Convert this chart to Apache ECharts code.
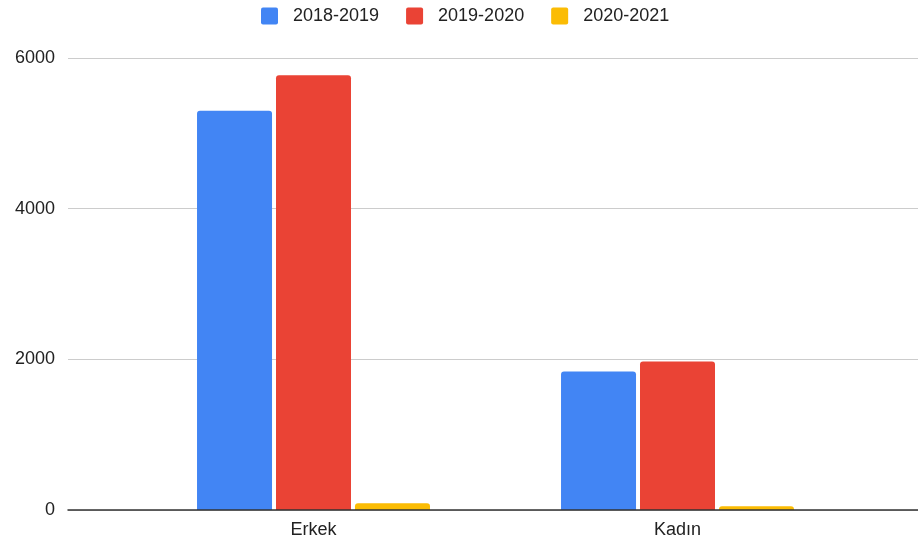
<!DOCTYPE html>
<html><head><meta charset="utf-8">
<script src="https://cdn.jsdelivr.net/npm/echarts@6/dist/echarts.min.js"></script>
<style>html,body{margin:0;padding:0;background:#fff}#c{width:918px;height:541px}</style>
</head><body><div id="c"></div>
<script>
const categories = ['Erkek', 'Kadın'];
const seriesNames = ['2018-2019', '2019-2020', '2020-2021'];
const s2018_2019 = [5300, 1840];
const s2019_2020 = [5770, 1970];
const s2020_2021 = [90, 50];
const yTicks = [0, 2000, 4000, 6000];
const colors = ['#4285F4', '#EA4335', '#FBBC04'];
const seriesData = [s2018_2019, s2019_2020, s2020_2021];

const chart = echarts.init(document.getElementById('c'), null, {renderer: 'canvas'});
const font = '"Liberation Sans", Arial, sans-serif';
const legendIcon = 'path://M2,0 H15 Q17,0 17,2 V15 Q17,17 15,17 H2 Q0,17 0,15 V2 Q0,0 2,0 Z';
chart.setOption({
  animation: false,
  color: colors,
  textStyle: {fontFamily: font},
  legend: {
    left: 261, top: 7, padding: 0,
    itemWidth: 17, itemHeight: 17, itemGap: 27,
    icon: legendIcon,
    textStyle: {fontSize: 18, color: '#222', fontFamily: font, padding: [0, 0, 0, 10]},
    data: seriesNames
  },
  grid: [
    {left: 68, right: 0, top: 58, bottom: 31},
    {left: 131.5, right: 58.5, top: 58, bottom: 31}
  ],
  xAxis: [
    {gridIndex: 0, type: 'category', data: categories, z: 5,
     axisLine: {show: true, lineStyle: {color: '#333', width: 1.5}},
     axisTick: {show: false}, axisLabel: {show: false}},
    {gridIndex: 1, type: 'category', data: categories,
     axisLine: {show: false}, axisTick: {show: false},
     axisLabel: {fontSize: 18, color: '#222', margin: 11, fontFamily: font}}
  ],
  yAxis: [
    {gridIndex: 0, type: 'value', min: yTicks[0], max: yTicks[yTicks.length - 1], interval: 2000,
     axisLine: {show: false}, axisTick: {show: false},
     axisLabel: {fontSize: 18, color: '#222', margin: 13, fontFamily: font, formatter: v => String(v)},
     splitLine: {lineStyle: {color: '#cccccc', width: 1}}},
    {gridIndex: 1, type: 'value', min: yTicks[0], max: yTicks[yTicks.length - 1], interval: 2000,
     show: false, splitLine: {show: false}}
  ],
  series: seriesNames.map((n, i) => ({
    name: n, type: 'bar', xAxisIndex: 1, yAxisIndex: 1,
    data: seriesData[i],
    barWidth: 75, barGap: '5.3%',
    itemStyle: {color: colors[i], borderRadius: [3, 3, 0, 0]}
  }))
});
</script></body></html>
